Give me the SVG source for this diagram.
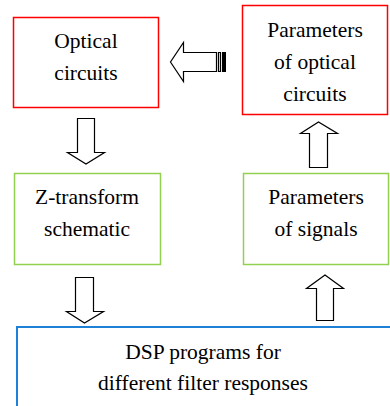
<svg xmlns="http://www.w3.org/2000/svg" width="390" height="406" viewBox="0 0 390 406">
<style>
.box{fill:#fff;stroke-width:1.5}
.red{stroke:#ff0000}
.green{stroke:#92d050}
.blue{stroke:#1f80d8;stroke-width:2}
.t{font-family:'Liberation Serif','Times New Roman',serif;font-size:21.5px;fill:#000;text-anchor:middle}
.arr{fill:#fff;stroke:#000;stroke-width:1.2;stroke-linejoin:miter}
</style>
<rect width="390" height="406" fill="#fff"/>
<g id="optical">
<rect class="box red" x="13.5" y="17.5" width="145" height="90"/>
<text class="t" x="86" y="48">Optical</text>
<text class="t" x="86" y="80">circuits</text>
</g>
<g id="params-optical">
<rect class="box red" x="242.5" y="5.5" width="145" height="109"/>
<text class="t" x="315" y="37">Parameters</text>
<text class="t" x="315" y="69">of optical</text>
<text class="t" x="315" y="101">circuits</text>
</g>
<g id="ztransform">
<rect class="box green" x="14.5" y="173.5" width="146" height="91"/>
<text class="t" x="87" y="204">Z-transform</text>
<text class="t" x="87" y="236">schematic</text>
</g>
<g id="params-signals">
<rect class="box green" x="243.5" y="173.5" width="145" height="91"/>
<text class="t" x="316" y="204">Parameters</text>
<text class="t" x="316" y="236">of signals</text>
</g>
<g id="dsp">
<rect class="box blue" x="17" y="327" width="390" height="100"/>
<text class="t" x="203" y="359">DSP programs for</text>
<text class="t" x="203" y="390">different filter responses</text>
</g>
<g id="connectors">
<path class="arr" d="M216.5,52.5 H183.5 V42.5 L170.5,62 L183.5,81.5 V71.5 H216.5 Z"/>
<path class="arr" d="M218.5,52.5 H220.5 V71.5 H218.5 Z"/>
<rect x="222" y="52" width="4" height="20" fill="#000"/>
<path class="arr" d="M77.5,118.5 H94.5 V152.5 H104.5 L86,164 L67.5,152.5 H77.5 Z"/>
<path class="arr" d="M75.5,277.5 H93.5 V311.5 H103.5 L84.5,323 L66.5,311.5 H75.5 Z"/>
<path class="arr" d="M309.5,167.5 H327.5 V133.5 H337.5 L318.5,122 L300.5,133.5 H309.5 Z"/>
<path class="arr" d="M316.5,320.5 H333.5 V288.5 H343.5 L325,275 L306.5,288.5 H316.5 Z"/>
</g>
</svg>
